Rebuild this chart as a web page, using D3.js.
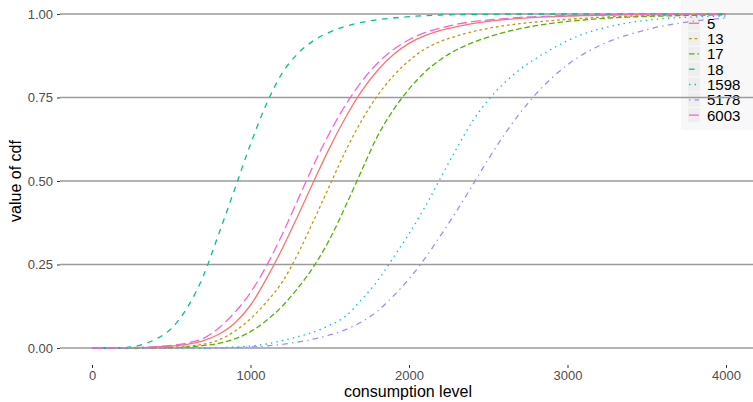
<!DOCTYPE html>
<html>
<head>
<meta charset="utf-8">
<script src="https://cdn.jsdelivr.net/npm/d3@7/dist/d3.min.js"></script>
<style>
  html, body { margin: 0; padding: 0; background: #ffffff; }
  svg { display: block; font-family: "Liberation Sans", Arial, Helvetica, sans-serif; }
</style>
</head>
<body>
<svg id="chart" width="753" height="402"></svg>
<script>
// Consumption levels at which each CDF is sampled
const consumption = [0,100,200,300,400,500,600,700,800,900,1000,1100,1200,1300,1400,1500,1600,1700,1800,1900,2000,
  2100,2200,2300,2400,2500,2600,2700,2800,2900,3000,3100,3200,3300,3400,3500,3600,3700,3800,3900,4000];

// Group labels, in legend order
const groups = ["5", "13", "17", "18", "1598", "5178", "6003"];

// CDF values per group
const cdf5 = [0,0,0,0.001,0.003,0.006,0.011,0.021,0.041,0.074,0.128,0.207,0.297,0.397,0.5,0.6,0.69,0.768,0.83,0.878,0.912,
  0.935,0.951,0.962,0.971,0.978,0.983,0.987,0.99,0.992,0.994,0.995,0.996,0.997,0.998,0.998,0.999,0.999,0.999,1,1];
const cdf13 = [0,0,0,0,0.001,0.002,0.005,0.011,0.024,0.05,0.088,0.137,0.197,0.283,0.383,0.487,0.59,0.68,0.755,0.814,0.86,
  0.895,0.918,0.934,0.947,0.957,0.965,0.971,0.976,0.98,0.984,0.987,0.99,0.992,0.994,0.995,0.996,0.997,0.998,0.998,0.999];
const cdf17 = [0,0,0,0,0,0.001,0.003,0.007,0.014,0.027,0.049,0.082,0.125,0.18,0.245,0.326,0.425,0.53,0.633,0.712,0.775,
  0.826,0.864,0.893,0.914,0.931,0.945,0.956,0.965,0.972,0.978,0.982,0.986,0.989,0.991,0.993,0.994,0.995,0.996,0.997,0.998];
const cdf18 = [0,0,0.001,0.008,0.026,0.058,0.12,0.213,0.342,0.475,0.61,0.73,0.823,0.882,0.921,0.946,0.963,0.975,0.983,0.988,0.992,
  0.995,0.997,0.998,0.999,0.999,1,1,1,1,1,1,1,1,1,1,1,1,1,1,1];
const cdf1598 = [0,0,0,0,0,0,0,0,0.001,0.003,0.006,0.012,0.022,0.034,0.048,0.068,0.095,0.145,0.2,0.27,0.342,
  0.422,0.51,0.597,0.678,0.743,0.793,0.834,0.867,0.895,0.92,0.94,0.955,0.966,0.975,0.981,0.986,0.989,0.991,0.993,0.994];
const cdf5178 = [0,0,0,0,0,0,0,0,0,0.001,0.003,0.006,0.011,0.018,0.027,0.039,0.055,0.078,0.11,0.155,0.207,
  0.268,0.337,0.41,0.487,0.565,0.638,0.703,0.76,0.808,0.848,0.88,0.905,0.925,0.94,0.953,0.964,0.972,0.979,0.984,0.988];
const cdf6003 = [0,0,0.001,0.002,0.004,0.008,0.015,0.028,0.06,0.106,0.166,0.245,0.34,0.445,0.55,0.645,0.728,0.797,0.852,0.893,0.923,
  0.944,0.958,0.969,0.977,0.982,0.986,0.99,0.992,0.994,0.995,0.996,0.997,0.998,0.999,0.999,1,1,1,1,1];

const seriesValues = [cdf5, cdf13, cdf17, cdf18, cdf1598, cdf5178, cdf6003];

// Axis ticks
const xTicks = [0, 1000, 2000, 3000, 4000];
const yTicks = [0, 0.25, 0.5, 0.75, 1];

// Styling
const colors = ["#F8766D", "#C49A00", "#53B400", "#00C094", "#00B6EB", "#A58AFF", "#FB61D7"];
const dashes = ["none", "2.8,2.8", "5.6,2.8", "5.6,5.6", "1.4,4.2", "1.4,4.2,5.6,4.2", "9.8,4.2"];

const svg = d3.select("#chart");
const panel = { left: 60, right: 753, top: 0, bottom: 365 };

const x = d3.scaleLinear().domain([0, 4000]).range([92, 726]);
const y = d3.scaleLinear().domain([0, 1]).range([348, 14]);

// Legend box (sits beneath grid and curves)
const legend = svg.append("g");
legend.append("rect").attr("x", 681).attr("y", 0).attr("width", 72).attr("height", 130).attr("fill", "#f8f8f8");
groups.forEach((g, i) => {
  const cy = 23.3 + i * 15.3;
  legend.append("rect").attr("x", 688).attr("y", cy - 7).attr("width", 12).attr("height", 14).attr("fill", "#eeeeee");
  legend.append("line")
    .attr("x1", 689).attr("x2", 699).attr("y1", cy).attr("y2", cy)
    .attr("stroke", colors[i]).attr("stroke-width", 1.3)
    .attr("stroke-dasharray", dashes[i]);
  legend.append("text")
    .attr("x", 707).attr("y", cy).attr("dy", "0.36em")
    .attr("font-size", "15px").attr("fill", "#000")
    .text(g);
});

// Horizontal grid
svg.append("g").selectAll("line").data(yTicks).join("line")
  .attr("x1", panel.left).attr("x2", panel.right)
  .attr("y1", d => y(d)).attr("y2", d => y(d))
  .attr("stroke", "#9a9a9a").attr("stroke-width", 1.3);

// Y axis ticks and labels
const yAxis = d3.axisLeft(y).tickValues(yTicks).tickFormat(d3.format(".2f")).tickSize(3).tickPadding(4);
const gy = svg.append("g").attr("transform", `translate(${panel.left},0)`).call(yAxis);
gy.select(".domain").remove();
gy.selectAll(".tick line").attr("stroke", "#333").attr("stroke-width", 1);
gy.selectAll(".tick text").attr("font-size", "13px").attr("fill", "#4d4d4d")
  .attr("font-family", "Liberation Sans, Arial, sans-serif");

// X axis ticks and labels
const xAxis = d3.axisBottom(x).tickValues(xTicks).tickFormat(d3.format("d")).tickSize(3).tickPadding(3);
const gx = svg.append("g").attr("transform", `translate(0,${panel.bottom})`).call(xAxis);
gx.select(".domain").remove();
gx.selectAll(".tick line").attr("stroke", "#333").attr("stroke-width", 1);
gx.selectAll(".tick text").attr("font-size", "13px").attr("fill", "#4d4d4d")
  .attr("font-family", "Liberation Sans, Arial, sans-serif");

// Axis titles
svg.append("text").attr("x", 408).attr("y", 397).attr("text-anchor", "middle")
  .attr("font-size", "16px").attr("fill", "#000").text("consumption level");
svg.append("text").attr("transform", "translate(21,181) rotate(-90)").attr("text-anchor", "middle")
  .attr("font-size", "16px").attr("fill", "#000").text("value of cdf");

// CDF curves
const line = d3.line()
  .x((d, i) => x(consumption[i]))
  .y(d => y(d))
  .curve(d3.curveMonotoneX);

svg.append("g").selectAll("path").data(seriesValues).join("path")
  .attr("d", d => line(d))
  .attr("fill", "none")
  .attr("stroke", (d, i) => colors[i])
  .attr("stroke-width", 1.3)
  .attr("stroke-dasharray", (d, i) => dashes[i]);
</script>
</body>
</html>
